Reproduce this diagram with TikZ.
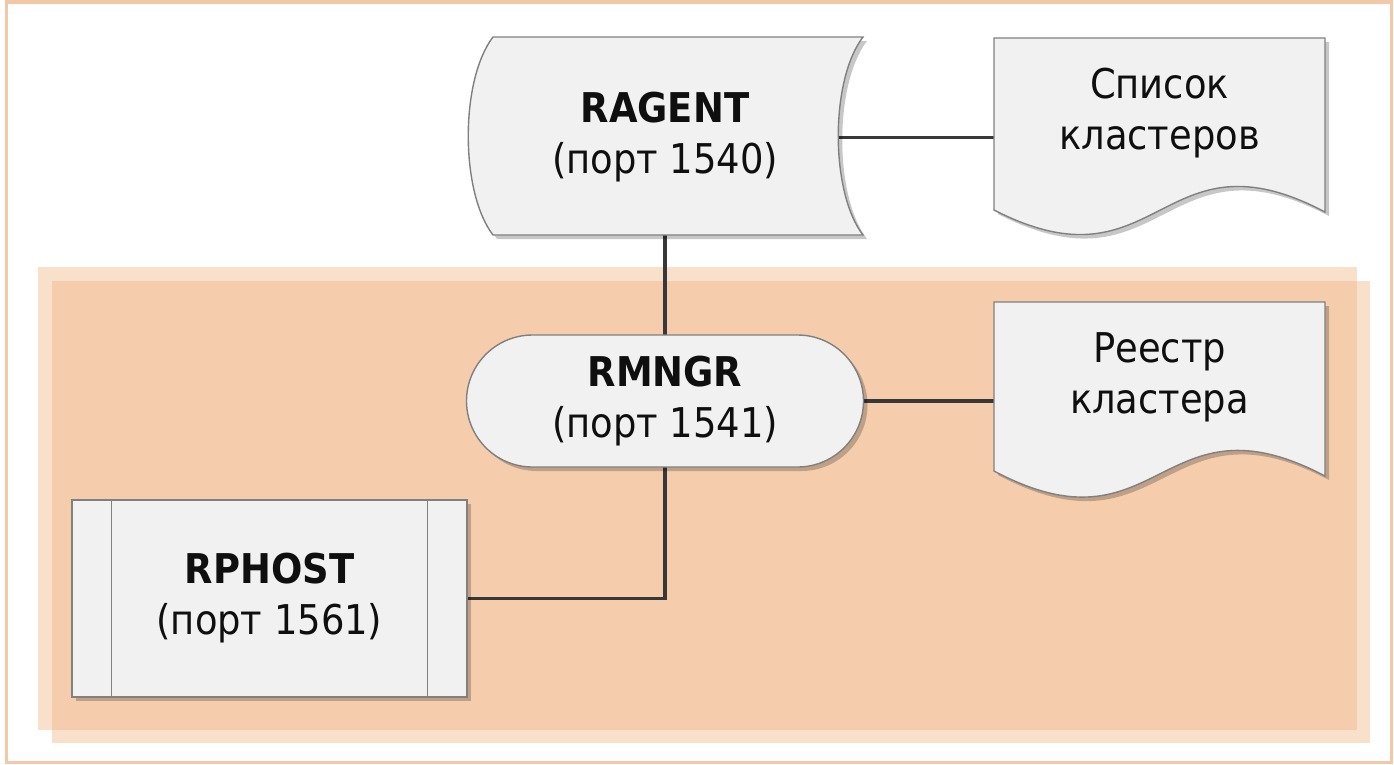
\documentclass[tikz,border=0pt]{standalone}
\usepackage{fontspec}
\setmainfont{DejaVu Sans Condensed}
\usetikzlibrary{shadows}
\pgfdeclarelayer{bg}
\pgfdeclarelayer{conn}
\pgfdeclarelayer{shp}
\pgfsetlayers{bg,conn,shp,main}
\definecolor{framecol}{HTML}{F3C8A8}
\definecolor{zonelight}{HTML}{F8E0CA}
\definecolor{zonedark}{HTML}{F5CDAC}
\definecolor{shapegray}{HTML}{F1F1F1}
\definecolor{edgegray}{HTML}{808080}
\definecolor{linkcol}{HTML}{383838}
\definecolor{textcol}{HTML}{0F0F0F}
\begin{document}
\begin{tikzpicture}[x=1pt,y=-1pt,
  shapefill/.style={fill=shapegray, draw=edgegray, line width=1.4pt,
    drop shadow={shadow xshift=4pt, shadow yshift=-4pt, opacity=0.22, fill=black}},
  edge/.style={draw=edgegray, line width=1.4pt},
  txt/.style={font=\fontsize{41}{51}\selectfont, text=textcol, align=center, inner sep=0pt},
  link/.style={draw=linkcol, line width=3.5pt}]
\useasboundingbox (0,0) rectangle (1394,764);
\begin{pgfonlayer}{bg}
  \fill[white] (0,0) rectangle (1394,764);
  \draw[framecol, line width=3.5pt] (6.5,2) rectangle (1391.5,762.5);
  \fill[zonelight] (38,267) rectangle (1357,730);
  \fill[zonelight] (52,281) rectangle (1370,743);
  \fill[zonedark] (52,281) rectangle (1357,730);
\end{pgfonlayer}

% text-bearing nodes
\node[txt, minimum width=370pt, minimum height=198pt] (ragent) at (665,137.5)
  {\textbf{RAGENT}\\(порт 1540)};
\node[txt, minimum width=331pt] (spisok) at (1159.5,113) {Список\\кластеров};
\node[txt, minimum width=331pt] (reestr) at (1159.5,377.5) {Реестр\\кластера};
\node[txt, shapefill, rounded corners=66pt, minimum width=397pt, minimum height=132pt]
  (rmngr) at (665,401) {\textbf{RMNGR}\\(порт 1541)};
\node[txt, shapefill, minimum width=395pt, minimum height=197pt]
  (rphost) at (269.5,598.5) {\textbf{RPHOST}\\(порт 1561)};
\draw[edge] ([xshift=40pt]rphost.north west) -- ([xshift=40pt]rphost.south west);
\draw[edge] ([xshift=-40pt]rphost.north east) -- ([xshift=-40pt]rphost.south east);

% custom outlines
\begin{pgfonlayer}{shp}
  \path[shapefill] (493,37) -- (863,37) .. controls (830,80) and (830,192) .. (863,235)
    -- (493,235) .. controls (460,192) and (460,80) .. (493,37) -- cycle;
  \path[shapefill] (994,38) -- (1325,38) -- (1325,212)
    .. controls (1160,125) and (1160,295) .. (994,210) -- cycle;
  \path[shapefill] (994,302) -- (1325,302) -- (1325,476)
    .. controls (1160,389) and (1160,559) .. (994,471) -- cycle;
\end{pgfonlayer}

% connectors
\begin{pgfonlayer}{conn}
  \draw[link] (ragent.center) -- (rmngr.center);
  \draw[link] (ragent.center) -- (ragent.center -| spisok.west);
  \draw[link] (rmngr.center) -- (rmngr.center -| reestr.west);
  \draw[link] (rmngr.center) |- (rphost.center);
\end{pgfonlayer}
\end{tikzpicture}
\end{document}
